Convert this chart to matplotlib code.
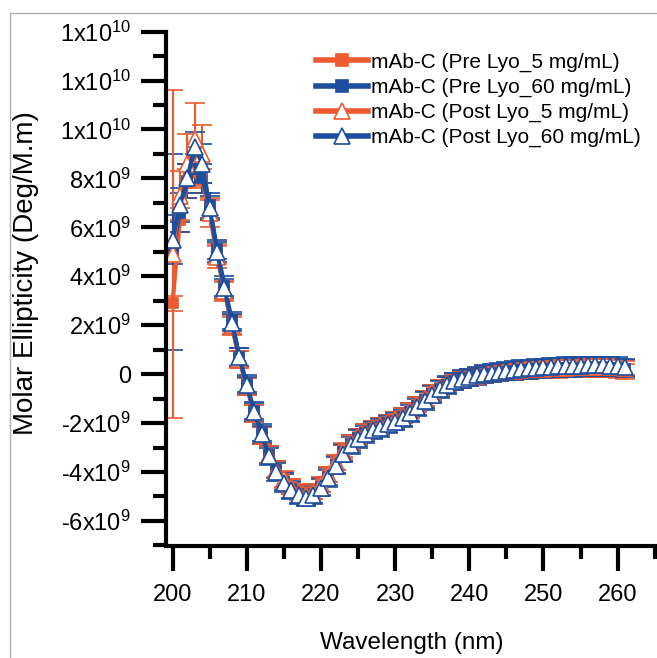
import numpy as np
import matplotlib
matplotlib.use("Agg")
import matplotlib.pyplot as plt
from matplotlib.lines import Line2D
from matplotlib.ticker import FixedLocator, FixedFormatter, MultipleLocator

# ---------------
# DATA (x 1e9)
# ---------------
wavelength = np.arange(200, 262)

pre_5 = [2.9, 6.3, 7.8, 8.2, 7.9, 6.7, 4.9, 3.4, 2.0, 0.6,
         -0.5, -1.6, -2.5, -3.3, -3.9, -4.3, -4.6, -4.8, -4.9, -4.8,
         -4.5, -4.1, -3.6, -3.1, -2.8, -2.55, -2.35, -2.2, -2.1, -1.95,
         -1.85, -1.7, -1.5, -1.25, -1.0, -0.75, -0.55, -0.4, -0.3, -0.22,
         -0.16, -0.11, -0.06, -0.02, 0.02, 0.05, 0.08, 0.1, 0.12, 0.13,
         0.14, 0.15, 0.16, 0.17, 0.17, 0.18, 0.18, 0.18, 0.18, 0.17,
         0.16, 0.12]
pre_60 = [5.0, 6.6, 7.9, 8.4, 8.0, 6.9, 5.1, 3.6, 2.2, 0.7,
          -0.4, -1.5, -2.4, -3.3, -3.9, -4.4, -4.7, -4.9, -5.0, -4.9,
          -4.6, -4.2, -3.7, -3.2, -2.85, -2.6, -2.4, -2.25, -2.15, -2.0,
          -1.9, -1.75, -1.55, -1.3, -1.05, -0.8, -0.6, -0.43, -0.3, -0.21,
          -0.14, -0.08, -0.03, 0.01, 0.05, 0.09, 0.12, 0.15, 0.17, 0.19,
          0.21, 0.22, 0.23, 0.24, 0.25, 0.26, 0.26, 0.27, 0.27, 0.27,
          0.26, 0.22]
post_5 = [4.9, 7.3, 8.6, 9.6, 9.0, 6.6, 4.8, 3.4, 2.0, 0.6,
          -0.5, -1.6, -2.5, -3.3, -3.9, -4.3, -4.6, -4.85, -4.95, -4.8,
          -4.5, -4.1, -3.6, -3.15, -2.8, -2.55, -2.35, -2.2, -2.1, -1.95,
          -1.85, -1.7, -1.5, -1.25, -1.0, -0.75, -0.55, -0.4, -0.28, -0.19,
          -0.12, -0.06, -0.01, 0.03, 0.07, 0.11, 0.14, 0.17, 0.19, 0.21,
          0.23, 0.25, 0.26, 0.27, 0.28, 0.29, 0.3, 0.3, 0.3, 0.3,
          0.29, 0.25]
post_60 = [5.5, 6.9, 8.0, 9.3, 8.6, 6.8, 5.0, 3.5, 2.1, 0.7,
           -0.45, -1.55, -2.45, -3.35, -4.0, -4.45, -4.75, -4.95, -5.05, -4.95,
           -4.65, -4.25, -3.75, -3.25, -2.9, -2.65, -2.45, -2.3, -2.2, -2.05,
           -1.95, -1.8, -1.6, -1.35, -1.1, -0.85, -0.62, -0.45, -0.3, -0.2,
           -0.12, -0.05, 0.01, 0.06, 0.1, 0.14, 0.18, 0.21, 0.24, 0.26,
           0.28, 0.3, 0.32, 0.33, 0.34, 0.35, 0.36, 0.36, 0.36, 0.35,
           0.33, 0.28]

# error bars (x 1e9)
pre_5_err = [0.3, 0.5, 0.6, 0.6, 0.5, 0.4, 0.4, 0.35, 0.35, 0.35,
             0.35, 0.35, 0.35, 0.35, 0.3, 0.3, 0.3, 0.3, 0.3, 0.3,
             0.3, 0.3, 0.3, 0.3, 0.3, 0.3, 0.3, 0.3, 0.3, 0.3,
             0.3, 0.3, 0.3, 0.3, 0.3, 0.3, 0.3, 0.3, 0.3, 0.3,
             0.3, 0.3, 0.3, 0.3, 0.3, 0.3, 0.3, 0.3, 0.3, 0.3,
             0.3, 0.3, 0.3, 0.3, 0.3, 0.3, 0.3, 0.3, 0.3, 0.3,
             0.3, 0.3]
pre_60_err = [4.0, 0.8, 0.7, 0.6, 0.6, 0.5, 0.4, 0.4, 0.35, 0.35,
              0.35, 0.35, 0.35, 0.35, 0.35, 0.35, 0.35, 0.35, 0.35, 0.35,
              0.35, 0.35, 0.35, 0.35, 0.35, 0.35, 0.35, 0.35, 0.35, 0.35,
              0.35, 0.35, 0.35, 0.35, 0.35, 0.35, 0.35, 0.35, 0.35, 0.35,
              0.35, 0.35, 0.35, 0.35, 0.35, 0.35, 0.35, 0.35, 0.35, 0.35,
              0.35, 0.35, 0.35, 0.35, 0.35, 0.35, 0.35, 0.35, 0.35, 0.35,
              0.35, 0.35]
post_5_err = [6.7, 1.0, 1.2, 1.5, 1.2, 0.6, 0.45, 0.4, 0.4, 0.35,
              0.35, 0.35, 0.35, 0.35, 0.35, 0.35, 0.3, 0.3, 0.3, 0.3,
              0.3, 0.3, 0.3, 0.3, 0.3, 0.3, 0.3, 0.3, 0.3, 0.3,
              0.3, 0.3, 0.3, 0.3, 0.3, 0.3, 0.3, 0.3, 0.3, 0.3,
              0.3, 0.3, 0.3, 0.3, 0.3, 0.3, 0.3, 0.3, 0.3, 0.3,
              0.3, 0.3, 0.3, 0.3, 0.3, 0.3, 0.3, 0.3, 0.3, 0.3,
              0.3, 0.3]
post_60_err = [1.0, 0.7, 0.6, 0.6, 0.8, 0.5, 0.4, 0.4, 0.35, 0.35,
               0.35, 0.35, 0.35, 0.35, 0.35, 0.35, 0.35, 0.35, 0.35, 0.35,
               0.35, 0.35, 0.35, 0.35, 0.35, 0.35, 0.35, 0.35, 0.35, 0.35,
               0.35, 0.35, 0.35, 0.35, 0.35, 0.35, 0.35, 0.35, 0.35, 0.35,
               0.35, 0.35, 0.35, 0.35, 0.35, 0.35, 0.35, 0.35, 0.35, 0.35,
               0.35, 0.35, 0.35, 0.35, 0.35, 0.35, 0.35, 0.35, 0.35, 0.35,
               0.35, 0.35]

labels = ["mAb-C (Pre Lyo_5 mg/mL)", "mAb-C (Pre Lyo_60 mg/mL)",
          "mAb-C (Post Lyo_5 mg/mL)", "mAb-C (Post Lyo_60 mg/mL)"]

y_ticks = [-6e9, -4e9, -2e9, 0, 2e9, 4e9, 6e9, 8e9, 1e10, 1.2e10, 1.4e10]
y_tick_labels = [r"-6x10$^{9}$", r"-4x10$^{9}$", r"-2x10$^{9}$", "0",
                 r"2x10$^{9}$", r"4x10$^{9}$", r"6x10$^{9}$", r"8x10$^{9}$",
                 r"1x10$^{10}$", r"1x10$^{10}$", r"1x10$^{10}$"]

# -------------
# STYLE
# -------------
plt.rcParams["font.family"] = ["Liberation Sans", "DejaVu Sans"]
plt.rcParams["mathtext.fontset"] = "custom"
plt.rcParams["mathtext.rm"] = "Liberation Sans"
plt.rcParams["mathtext.it"] = "Liberation Sans"

RED = "#EE5A2F"
BLUE = "#1C4E9E"
scale = 1e9

fig = plt.figure(figsize=(6.57, 6.58), dpi=100)
ax = fig.add_axes([0.252, 0.170, 0.748, 0.782])

series = [
    (pre_5, pre_5_err, RED, "s", RED),
    (pre_60, pre_60_err, BLUE, "s", BLUE),
    (post_5, post_5_err, RED, "^", "white"),
    (post_60, post_60_err, BLUE, "^", "white"),
]

handles = []
for (vals, errs, col, mk, face), lab in zip(series, labels):
    y = np.array(vals) * scale
    e = np.array(errs) * scale
    ax.errorbar(wavelength, y, yerr=e, color=col, lw=3, marker=mk,
                ms=7 if mk == "s" else 11, mfc=face, mec=col, mew=1.2,
                ecolor=col, elinewidth=1.5, capsize=7.5, capthick=2.2)
    handles.append(Line2D([], [], color=col, lw=4, marker=mk,
                          ms=9 if mk == "s" else 12, mfc=face, mec=col, mew=1.2))

ax.set_xlim(199.06, 265.3)
ax.set_ylim(-7.03e9, 1.4e10)

ax.xaxis.set_major_locator(MultipleLocator(10))
ax.xaxis.set_minor_locator(MultipleLocator(5))
ax.yaxis.set_major_locator(FixedLocator(y_ticks))
ax.yaxis.set_major_formatter(FixedFormatter(y_tick_labels))
ax.yaxis.set_minor_locator(MultipleLocator(1e9))

for side in ["top", "right"]:
    ax.spines[side].set_visible(False)
for side in ["left", "bottom"]:
    ax.spines[side].set_linewidth(3)

ax.tick_params(which="major", direction="out", length=18, width=3,
               labelsize=17, pad=7)
ax.tick_params(which="minor", direction="out", length=9.5, width=3)
ax.tick_params(axis="x", which="major", pad=9)

ax.set_xlabel("Wavelength (nm)", fontsize=17.5, va="center")
ax.set_ylabel("Molar Ellipticity (Deg/M.m)", fontsize=20, va="center")
ax.xaxis.set_label_coords(0.5, -0.189)
ax.yaxis.set_label_coords(-0.285, 0.531)

ax.legend(handles, labels, loc="upper right", bbox_to_anchor=(0.984, 0.975),
          frameon=False, fontsize=15, handlelength=2.5, handletextpad=0.15,
          labelspacing=0.28, borderaxespad=0)

# thin gray frame at left/top
fig.add_artist(Line2D([10 / 657, 10 / 657], [0, 1 - 13 / 658],
                      transform=fig.transFigure, color="#b0b0b0", lw=1))
fig.add_artist(Line2D([10 / 657, 1], [1 - 13 / 658, 1 - 13 / 658],
                      transform=fig.transFigure, color="#b0b0b0", lw=1))

fig.savefig("out.png", dpi=100)
